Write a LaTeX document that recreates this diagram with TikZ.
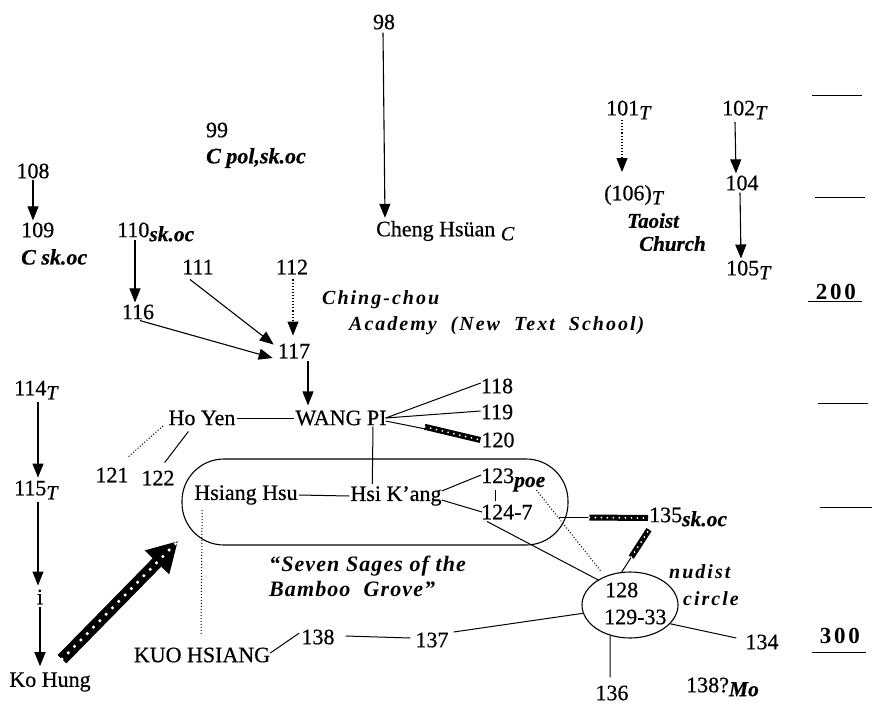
\documentclass[tikz,border=0pt]{standalone}
\usepackage{fontspec}
\setmainfont{Liberation Serif}[FakeBold=0.6]
\newfontfamily\spbi[LetterSpace=10]{Liberation Serif}
\newfontfamily\sagef[LetterSpace=5]{Liberation Serif}
\newfontfamily\widebf[LetterSpace=12]{Liberation Serif}
\usetikzlibrary{arrows.meta,shapes.geometric,calc}
\newcommand\lowit[1]{\raisebox{-4pt}{\fontsize{20}{22}\selectfont\itshape #1}}
\newcommand\lowbi[1]{\raisebox{-4pt}{\fontsize{21.5}{22}\selectfont\bfseries\itshape #1}}
\begin{document}
\begin{tikzpicture}[x=1pt,y=-1pt,
  every node/.style={font=\fontsize{22}{25}\selectfont, inner sep=1pt},
  arr/.style={line width=1.1pt, -{Triangle[length=14pt,width=11pt]}},
  ln/.style={line width=1pt},
  dotl/.style={line width=1pt, dotted},
  bi/.style={font=\fontsize{22}{24}\selectfont\bfseries\itshape},
  grp/.style={font=\fontsize{20}{24}\selectfont\spbi\bfseries\itshape, align=left},
  sage/.style={font=\fontsize{22}{25}\selectfont\sagef\bfseries\itshape, align=left},
  chain/.style={line width=6pt, postaction={draw=white, line width=2pt, dash pattern=on 0pt off 6pt, line cap=round}},
  bigchain/.style={line width=12pt, -{Triangle[length=30pt,width=32pt]},
     postaction={draw=white, -, line width=3.5pt, dash pattern=on 0pt off 9pt, line cap=round}},
]
\useasboundingbox (0,0) rectangle (876,713);

% timeline
\draw[ln] (812,95) -- (862,95);
\draw[ln] (815,197) -- (865,197);
\node[font=\fontsize{23}{26}\selectfont\widebf\bfseries] (t200) at (836,292) {200};
\draw[ln] (808,301) -- (862,301);
\draw[ln] (818,403) -- (868,403);
\draw[ln] (820,507) -- (872,507);
\node[font=\fontsize{23}{26}\selectfont\widebf\bfseries] (t300) at (840,636) {300};
\draw[ln] (812,652) -- (866,652);

% top
\node (n98) at (384,22) {98};
\node[anchor=west] (cheng) at (375,231) {Cheng Hs\"uan \lowit{C}};
\draw[arr] ($(n98.south)+(-1,2)$) -- ($(cheng.north west)+(10,-2)$);

\node (n99) at (217,130) {99};
\node[bi, anchor=west] (n99l) at (205,158) {C pol,sk.oc};

\node (n108) at (33,171) {108};
\node[anchor=west] (n109) at (20,230) {109};
\node[bi, anchor=west] (n109l) at (20,257) {C sk.oc};
\draw[arr] (n108.south) -- ($(n108.south |- n109.north)+(0,-1)$);

\node[anchor=west] (n110) at (116,232) {110\lowbi{sk.oc}};
\node (n111) at (198,267) {111};
\node (n112) at (292,267) {112};
\node (n116) at (138,312) {116};
\node (n117) at (294,351) {117};
\draw[arr] ($(n110.west)+(19,8)$) -- ($(n116.north)+(-3,-1)$);
\draw[arr] ($(n111.south)+(-8,4)$) -- ($(n117.north west)+(-3,2)$);
\draw[arr] ($(n116.south)+(2,0)$) -- ($(n117.west)+(-4,7)$);
\draw[arr, dotted] ($(n112.south)+(1,4)$) -- ($(n112.south |- n117.north)+(1,-7)$);

\node[grp, anchor=west] (ching) at (321,300) {Ching-chou};
\node[grp, anchor=west] (acad) at (348,326) {Academy \ (New \ Text \ School)};

% Taoist
\node[anchor=west] (n101) at (605,110) {101\lowit{T}};
\node[anchor=west] (n106) at (603,195) {(106)\lowit{T}};
\node[anchor=west] (n102) at (721,110) {102\lowit{T}};
\node (n104) at (742,183) {104};
\node[anchor=west] (n105) at (725,270) {105\lowit{T}};
\node[font=\fontsize{21}{23}\selectfont\bfseries\itshape, align=left, anchor=north west, inner sep=0pt] (tao) at (627,213) {Taoist\\\hspace*{12pt}Church};
\draw[arr, dotted] ($(n101.west)+(17,10)$) -- ($(n106.west)+(19,-23)$);
\draw[arr] ($(n102.west)+(14,12)$) -- ($(n104.north)+(-6,-1)$);
\draw[arr] ($(n104.south)+(-2,1)$) -- ($(n105.north west)+(16,-1)$);

% WANG PI cluster
\draw[arr] ($(n117.south)+(14,2)$) -- ($(n117.south)+(14,46)$);
\node (hoyen) at (202,418) {Ho Yen};
\node (wangpi) at (341,418) {WANG PI};
\node (n118) at (497,386) {118};
\node (n119) at (497,412) {119};
\node (n120) at (498,440) {120};
\draw[ln] (hoyen.east) -- (wangpi.west);
\draw[ln] ($(wangpi.east)+(-2,0)$) -- ($(n118.west)+(1,-3)$);
\draw[ln] ($(wangpi.east)+(-2,0)$) -- ($(n119.west)+(1,-1)$);
\draw[ln] ($(wangpi.east)+(-2,3)$) -- (n120.west);
\draw[chain] ($(wangpi.east)!0.4!(n120.west)$) -- (n120.west);

\node (n121) at (112,475) {121};
\node (n122) at (158,478) {122};
\draw[dotl] ($(n121.north east)+(-1,-10)$) -- ($(hoyen.south west)+(-4,-1)$);
\draw[ln] ($(n122.north east)+(-11,-7)$) -- ($(hoyen.south west)+(21,5)$);

% Seven Sages
\node[draw, line width=1.1pt, rounded corners=42pt, minimum width=386pt, minimum height=86pt] (sages) at (375,502) {};
\node (hsiang) at (246,495) {Hsiang Hsu};
\node (hsik) at (396,496) {Hsi K’ang};
\draw[ln] (hsiang.east) -- (hsik.west);
\draw[ln] ($(wangpi.south)+(32,0)$) -- ($(hsik.north west)+(23,-1)$);
\node[sage, anchor=north west] (sglab) at (268,555) {“Seven Sages of the\\Bamboo \ Grove”};
\node[anchor=west] (n123) at (480,480) {123\lowbi{poe}};
\node[anchor=west] (n124) at (480,512) {124-7};
\draw[ln] ($(n123.west)+(15,10)$) -- ($(n124.west)+(15,-11)$);
\draw[ln] ($(hsik.east)+(-1,-5)$) -- ($(n123.west)+(1,-5)$);
\draw[ln] ($(hsik.east)+(-1,4)$) -- ($(n124.west)+(2,0)$);

% nudist circle
\node[draw, ellipse, line width=1.1pt, minimum width=96pt, minimum height=66pt, inner sep=0pt] (nud) at (630,605) {};
\node[anchor=west] (n128) at (604,590) {128};
\node[anchor=west] (n129) at (603,617) {129-33};
\node[grp, anchor=north west, font=\fontsize{20}{27}\selectfont\spbi\bfseries\itshape] (nudl) at (668,563) {nudist\\\hspace*{14pt}circle};
\draw[ln] ($(n124.south west)+(7,1)$) -- ($(n128.north west)+(-5,-1)$);
\draw[dotl] ($(n123.east)+(-10,10)$) -- ($(n128.north west)+(-3,-10)$);

\node[anchor=west] (n135) at (648,517) {135\lowbi{sk.oc}};
\draw[ln] ($(sages.east)+(-10,15)$) -- (n135.west);
\draw[chain] ($(sages.east)!0.3!(n135.west)+(-3,11)$) -- ($(n135.west)+(0,1)$);
\draw[ln] (nud.104) -- ($(n135.south west)+(1,2)$);
\draw[chain] ($(nud.104)!0.35!($(n135.south west)+(1,2)$)$) -- ($(n135.south west)+(1,2)$);

\node (n134) at (762,642) {134};
\node (n136) at (612,693) {136};
\node[anchor=west] (n138q) at (685,687) {138?\lowbi{Mo}};
\node (n137) at (432,640) {137};
\node (n138) at (318,637) {138};
\node (kuo) at (202,655) {KUO HSIANG};
\draw[ln] (nud.-25) -- ($(n134.west)+(-8,-4)$);
\draw[ln] (nud.-123) -- ($(n136.north)+(-2,-7)$);
\draw[ln] ($(n137.east)+(4,-8)$) -- (nud.190);
\draw[ln] ($(n138.east)+(10,-1)$) -- ($(n137.west)+(-4,-2)$);
\draw[ln] ($(kuo.east)+(-1,-2)$) -- ($(n138.west)+(-1,-4)$);
\draw[dotl] ($(hsiang.south west)+(9,4)$) -- ($(kuo.north)+(-1,-12)$);

% left column
\node[anchor=west] (n114) at (13,390) {114\lowit{T}};
\node[anchor=west] (n115) at (13,490) {115\lowit{T}};
\node (ni) at (40,597) {i};
\node (kohung) at (50,682) {Ko Hung};
\draw[arr] ($(n114.west)+(25,12)$) -- ($(n115.north west)+(25,-2)$);
\draw[arr] ($(n115.west)+(25,12)$) -- ($(ni.north)+(-2,-3)$);
\draw[arr] ($(ni.south)+(0,2)$) -- ($(kohung.north)+(-10,-5)$);
\coordinate (bigtip) at (178,541);
\draw[bigchain] ($(kohung.north)+(12,-12)$) -- (bigtip);
\end{tikzpicture}
\end{document}
